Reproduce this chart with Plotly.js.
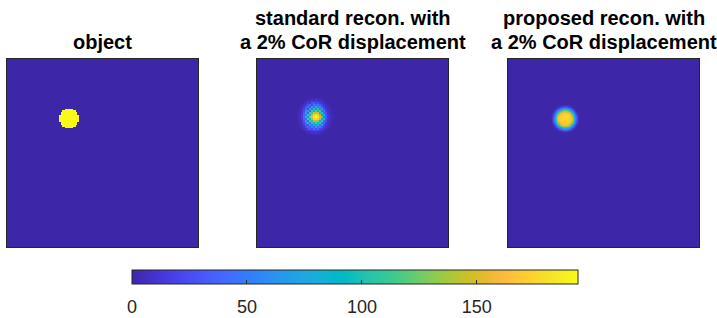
<!DOCTYPE html>
<html>
<head>
<meta charset="utf-8">
<script src="https://cdn.plot.ly/plotly-3.0.1.min.js"></script>
<style>html,body{margin:0;padding:0;background:#fff;}#chart{width:717px;height:318px;}</style>
</head>
<body>
<div id="chart"></div>
<script>
// ---------------- data ----------------
// each title: list of lines (last line sits just above the panel)
const panelTitles = [
  ["object"],
  ["standard recon. with", "a 2% CoR displacement"],
  ["proposed recon. with", "a 2% CoR displacement"]
];
const colorbarTicks = [0, 50, 100, 150];
const zMin = 0, zMax = 194;

// object: 128 x 128 image, non-zero patch (13 x 13) starting at row 34, col 35
const objectSize = 128;
const objectRow0 = 34, objectCol0 = 35;
const objectPatch = [
  [0,0,0,0,194,194,194,194,194,0,0,0,0],
  [0,0,194,194,194,194,194,194,194,194,194,0,0],
  [0,194,194,194,194,194,194,194,194,194,194,194,0],
  [0,194,194,194,194,194,194,194,194,194,194,194,0],
  [194,194,194,194,194,194,194,194,194,194,194,194,194],
  [194,194,194,194,194,194,194,194,194,194,194,194,194],
  [194,194,194,194,194,194,194,194,194,194,194,194,194],
  [194,194,194,194,194,194,194,194,194,194,194,194,194],
  [194,194,194,194,194,194,194,194,194,194,194,194,194],
  [0,194,194,194,194,194,194,194,194,194,194,194,0],
  [0,194,194,194,194,194,194,194,194,194,194,194,0],
  [0,0,194,194,194,194,194,194,194,194,194,0,0],
  [0,0,0,0,194,194,194,194,194,0,0,0,0]
];

// standard recon: 96 x 96 image, non-zero patch (19 x 19) starting at row 20, col 20
const standardSize = 96;
const standardRow0 = 20, standardCol0 = 20;
const standardPatch = [
  [0,0,0,0,0,2,3,5,4,6,4,3,2,0,0,0,0,0,0],
  [0,0,0,0,3,6,8,12,9,15,10,8,5,3,0,0,0,0,0],
  [0,0,0,4,8,14,12,24,30,18,26,14,10,6,3,0,0,0,0],
  [0,0,3,8,14,26,38,22,52,36,44,28,18,10,5,2,0,0,0],
  [0,2,5,12,28,42,26,68,40,82,50,60,30,16,8,4,2,0,0],
  [0,3,8,18,40,22,80,48,98,55,108,40,70,26,12,6,3,0,0],
  [2,4,10,24,58,92,36,112,94,120,92,118,40,44,18,8,4,2,0],
  [2,5,12,30,76,32,118,112,148,138,150,84,106,36,26,10,5,2,0],
  [3,6,14,38,48,112,78,142,170,184,168,138,62,92,28,12,6,3,0],
  [3,6,16,44,98,52,128,158,186,194,184,152,118,48,36,13,6,3,2],
  [3,6,14,36,42,116,82,138,168,178,166,134,72,96,28,12,6,3,0],
  [2,5,12,28,84,36,114,102,144,132,138,70,110,40,24,10,5,2,0],
  [2,4,10,22,46,100,42,108,82,118,88,112,48,36,16,8,4,2,0],
  [0,3,8,16,34,26,80,40,92,58,98,40,68,24,12,6,3,0,0],
  [0,2,5,11,22,40,28,60,38,72,40,54,28,14,8,4,2,0,0],
  [0,0,3,7,12,22,32,22,42,30,36,22,16,9,5,2,0,0,0],
  [0,0,0,4,7,12,12,20,24,16,20,12,9,5,3,0,0,0,0],
  [0,0,0,0,3,6,7,10,8,12,8,7,4,2,0,0,0,0,0],
  [0,0,0,0,0,2,3,5,4,6,4,3,2,0,0,0,0,0,0]
];

// proposed recon: 64 x 64 image, non-zero patch (11 x 11) starting at row 15, col 13
const proposedSize = 64;
const proposedRow0 = 15, proposedCol0 = 13;
const proposedPatch = [
  [0,0,0,0,0,0,0,0,0,0,0],
  [0,0,0,3,15,30,28,12,0,0,0],
  [0,0,5,45,100,135,130,92,30,0,0],
  [0,0,28,115,168,172,174,166,97,15,0],
  [0,3,55,160,172,176,178,174,140,40,0],
  [0,4,60,163,172,178,176,170,150,48,0],
  [0,0,45,140,170,174,172,168,125,28,0],
  [0,0,10,80,145,166,165,138,62,6,0],
  [0,0,0,12,50,82,80,44,8,0,0],
  [0,0,0,0,0,5,5,0,0,0,0],
  [0,0,0,0,0,0,0,0,0,0,0]
];

// MATLAB parula (64 entries)
const parula64 = [
[0.2422,0.1504,0.6603],[0.2504,0.1650,0.7076],[0.2578,0.1818,0.7511],[0.2647,0.1978,0.7952],
[0.2706,0.2147,0.8364],[0.2751,0.2342,0.8710],[0.2783,0.2559,0.8991],[0.2803,0.2782,0.9221],
[0.2813,0.3006,0.9414],[0.2810,0.3228,0.9579],[0.2795,0.3447,0.9717],[0.2760,0.3667,0.9829],
[0.2699,0.3892,0.9906],[0.2602,0.4123,0.9952],[0.2440,0.4358,0.9988],[0.2206,0.4603,0.9973],
[0.1963,0.4847,0.9892],[0.1834,0.5074,0.9798],[0.1786,0.5289,0.9682],[0.1764,0.5499,0.9520],
[0.1687,0.5703,0.9359],[0.1540,0.5902,0.9218],[0.1460,0.6091,0.9079],[0.1380,0.6276,0.8973],
[0.1248,0.6459,0.8883],[0.1113,0.6635,0.8763],[0.0952,0.6798,0.8598],[0.0689,0.6948,0.8394],
[0.0297,0.7082,0.8163],[0.0036,0.7203,0.7917],[0.0067,0.7312,0.7660],[0.0433,0.7411,0.7394],
[0.0964,0.7500,0.7120],[0.1408,0.7584,0.6842],[0.1717,0.7670,0.6554],[0.1938,0.7758,0.6251],
[0.2161,0.7843,0.5923],[0.2470,0.7918,0.5567],[0.2906,0.7973,0.5188],[0.3406,0.8008,0.4789],
[0.3909,0.8029,0.4354],[0.4456,0.8024,0.3909],[0.5044,0.7993,0.3480],[0.5616,0.7942,0.3045],
[0.6174,0.7876,0.2612],[0.6720,0.7793,0.2227],[0.7242,0.7698,0.1910],[0.7738,0.7598,0.1646],
[0.8203,0.7498,0.1535],[0.8634,0.7406,0.1596],[0.9035,0.7330,0.1774],[0.9393,0.7288,0.2100],
[0.9728,0.7298,0.2394],[0.9956,0.7434,0.2371],[0.9970,0.7659,0.2199],[0.9952,0.7893,0.2028],
[0.9892,0.8136,0.1885],[0.9786,0.8386,0.1766],[0.9676,0.8639,0.1643],[0.9610,0.8890,0.1537],
[0.9597,0.9135,0.1423],[0.9628,0.9373,0.1265],[0.9691,0.9606,0.1064],[0.9769,0.9839,0.0805]
];

// ---------------- build ----------------
const parula = parula64.map((c, i) => [i / (parula64.length - 1),
  'rgb(' + c.map(v => Math.round(v * 255)).join(',') + ')']);

function buildImage(n, row0, col0, patch) {
  const z = [];
  for (let r = 0; r < n; r++) z.push(new Array(n).fill(0));
  patch.forEach((row, i) => row.forEach((v, j) => { z[row0 + i][col0 + j] = v; }));
  return z;
}

const W = 717, H = 318;
const px = (a, b) => [a / W, b / W];
const py = (top, bottom) => [1 - bottom / H, 1 - top / H];
const xDom = [px(7, 198), px(257, 448), px(508, 699)];
const yDom = py(59, 249);
const FONT = 'Liberation Sans, Arial, Helvetica, sans-serif';
const AXC = '#262626';

const images = [
  {z: buildImage(objectSize, objectRow0, objectCol0, objectPatch), n: objectSize, smooth: false},
  {z: buildImage(standardSize, standardRow0, standardCol0, standardPatch), n: standardSize, smooth: false},
  {z: buildImage(proposedSize, proposedRow0, proposedCol0, proposedPatch), n: proposedSize, smooth: 'best'}
];

const cbBase = {
  orientation: 'h',
  x: (132 + 578) / 2 / W, xanchor: 'center',
  len: (578 - 132) / W, lenmode: 'fraction',
  xpad: 0, ypad: 0,
  y: 1 - 272 / H, yanchor: 'top',
  thickness: 14,
  tickmode: 'array', tickvals: colorbarTicks,
  ticktext: colorbarTicks.map(String)
};
// colorbar of trace 0: tick labels (drawn first)
const cbLabels = Object.assign({}, cbBase, {
  outlinewidth: 0,
  ticks: 'outside', ticklen: 8, tickcolor: 'rgba(0,0,0,0)',
  tickfont: {family: FONT, size: 18, color: AXC}
});
// colorbar of trace 1: outline and inside tick marks (drawn on top)
const cbTicks = Object.assign({}, cbBase, {
  outlinecolor: AXC, outlinewidth: 1,
  ticks: 'inside', ticklen: 4, tickwidth: 1, tickcolor: AXC,
  showticklabels: false
});

const traces = images.map((im, k) => ({
  type: 'heatmap',
  z: im.z,
  xaxis: k === 0 ? 'x' : 'x' + (k + 1),
  yaxis: k === 0 ? 'y' : 'y' + (k + 1),
  colorscale: parula,
  zmin: zMin, zmax: zMax,
  zsmooth: im.smooth,
  hoverinfo: 'skip',
  showscale: k < 2,
  colorbar: k === 0 ? cbLabels : (k === 1 ? cbTicks : undefined)
}));

// title lines: last line centred at y=42px, previous lines 24px above
const annotations = [];
panelTitles.forEach((lines, k) => {
  lines.forEach((line, i) => {
    const yPx = 42 - (lines.length - 1 - i) * 24;
    annotations.push({
      text: '<b>' + line + '</b>',
      xref: 'paper', yref: 'paper',
      x: (xDom[k][0] + xDom[k][1]) / 2,
      y: 1 - yPx / H,
      xanchor: 'center', yanchor: 'middle',
      showarrow: false,
      font: {family: FONT, size: 20, color: '#000000'}
    });
  });
});

const layout = {
  width: W, height: H,
  margin: {l: 0, r: 0, t: 0, b: 0},
  paper_bgcolor: '#ffffff', plot_bgcolor: '#ffffff',
  showlegend: false,
  annotations: annotations
};
images.forEach((im, k) => {
  const sfx = k === 0 ? '' : String(k + 1);
  layout['xaxis' + sfx] = {
    domain: xDom[k], anchor: 'y' + sfx, range: [-0.5, im.n - 0.5],
    showticklabels: false, ticks: '', showgrid: false, zeroline: false,
    showline: true, mirror: true, linecolor: AXC, linewidth: 1, fixedrange: true
  };
  layout['yaxis' + sfx] = {
    domain: yDom, anchor: 'x' + sfx, range: [im.n - 0.5, -0.5],
    showticklabels: false, ticks: '', showgrid: false, zeroline: false,
    showline: true, mirror: true, linecolor: AXC, linewidth: 1, fixedrange: true
  };
});

Plotly.newPlot('chart', traces, layout, {staticPlot: true, displayModeBar: false});
</script>
</body>
</html>
